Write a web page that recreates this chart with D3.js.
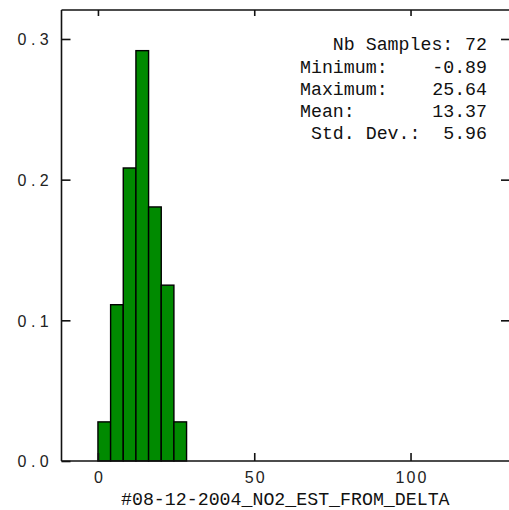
<!DOCTYPE html>
<html><head><meta charset="utf-8">
<script src="https://cdn.jsdelivr.net/npm/d3@7"></script>
<style>
html,body{margin:0;padding:0;background:#fff;}
svg{display:block;}
</style></head>
<body>
<script>
// ---- data ----
const binEdges = [0, 4.05, 8.1, 12.15, 16.2, 20.25, 24.3, 28.35];
const frequencies = [0.0278, 0.1111, 0.2083, 0.2917, 0.1806, 0.125, 0.0278];
const xTicks = [0, 50, 100];
const yTicks = [0.0, 0.1, 0.2, 0.3];
const statLabels = ["   Nb Samples:", "Minimum:", "Maximum:", "Mean:", " Std. Dev.:"];
const statValues = ["72", "-0.89", "25.64", "13.37", "5.96"];
const xTitle = "#08-12-2004_NO2_EST_FROM_DELTA";

const W = 509, H = 510;
const svg = d3.select("body").append("svg").attr("width", W).attr("height", H);

const x = d3.scaleLinear().domain([-11.66, 131.5]).range([61.5, 509]);
const y = d3.scaleLinear().domain([0, 0.3206]).range([461, 10]);

const ink = "#111";
const sansFont = "'Liberation Sans', Arial, sans-serif";
const monoFont = "'Liberation Mono', 'Courier New', monospace";

// helper: monospace-like placement of characters
function monoChars(textSel, str, startCenter, pitch) {
  textSel.text(null);
  [...str].forEach((c, i) => {
    textSel.append("tspan").attr("x", startCenter + i * pitch).attr("text-anchor", "middle").text(c);
  });
}

// bars
const bins = frequencies.map((f, i) => ({x0: binEdges[i], x1: binEdges[i + 1], f}));
svg.append("g").selectAll("rect").data(bins).join("rect")
  .attr("x", d => x(d.x0))
  .attr("width", d => x(d.x1) - x(d.x0))
  .attr("y", d => y(d.f))
  .attr("height", d => y(0) - y(d.f))
  .attr("fill", "#008a00")
  .attr("stroke", "#000")
  .attr("stroke-width", 1.4);

// left axis
const pitch = 11.2;
const gl = svg.append("g").attr("transform", "translate(61.5,0)")
  .call(d3.axisLeft(y).tickValues(yTicks).tickSize(-9).tickFormat(d3.format(".1f")));
gl.select(".domain").attr("d", `M0,${y.range()[1]}V${y.range()[0]}`).attr("stroke", ink).attr("stroke-width", 1.6);
gl.selectAll(".tick line").attr("stroke", ink).attr("stroke-width", 1.6);
gl.selectAll(".tick text").each(function(d) {
  const s = d3.format(".1f")(d);
  const t = d3.select(this).attr("dy", null).attr("y", 5.8)
    .attr("font-family", sansFont).attr("font-size", 16).attr("fill", "#222");
  monoChars(t, s, -17.2 - (s.length - 1) * pitch, pitch);
});

// right axis ticks
const gr = svg.append("g").attr("transform", "translate(509,0)")
  .call(d3.axisRight(y).tickValues(yTicks.filter(v => v > 0)).tickSize(-8).tickFormat(""));
gr.select(".domain").remove();
gr.selectAll(".tick line").attr("stroke", ink).attr("stroke-width", 1.6);

// bottom axis
const gb = svg.append("g").attr("transform", "translate(0,461)")
  .call(d3.axisBottom(x).tickValues(xTicks).tickSize(-8).tickFormat(d3.format("d")));
gb.select(".domain").attr("d", `M${x.range()[0]},0H${x.range()[1]}`).attr("stroke", ink).attr("stroke-width", 1.6);
gb.selectAll(".tick line").attr("stroke", ink).attr("stroke-width", 1.6);
gb.selectAll(".tick text").each(function(d) {
  const s = String(d);
  const t = d3.select(this).attr("dy", null).attr("y", 22.3)
    .attr("font-family", sansFont).attr("font-size", 16).attr("fill", "#222");
  monoChars(t, s, -((s.length - 1) * 11) / 2, 11);
});

// top axis
const gt = svg.append("g").attr("transform", "translate(0,10)")
  .call(d3.axisTop(x).tickValues(xTicks).tickSize(-6).tickFormat(""));
gt.select(".domain").attr("d", `M${x.range()[0]},0H${x.range()[1]}`).attr("stroke", ink).attr("stroke-width", 1.6);
gt.selectAll(".tick line").attr("stroke", ink).attr("stroke-width", 1.6);

// x title
svg.append("text").attr("x", 285.3).attr("y", 505).attr("text-anchor", "middle")
  .attr("font-family", monoFont).attr("font-size", 18.25).attr("fill", "#111")
  .text(xTitle);

// stats box
const statY = [49.5, 72.5, 94.8, 116.8, 138.5];
const sg = svg.append("g").attr("font-family", monoFont).attr("font-size", 18.25).attr("fill", "#111");
sg.selectAll("text.lab").data(statLabels).join("text").attr("class", "lab")
  .attr("x", 300).attr("y", (d, i) => statY[i]).attr("xml:space", "preserve")
  .style("white-space", "pre").text(d => d);
sg.selectAll("text.val").data(statValues).join("text").attr("class", "val")
  .attr("x", 487).attr("y", (d, i) => statY[i]).attr("text-anchor", "end")
  .text(d => d);
</script>
</body></html>
